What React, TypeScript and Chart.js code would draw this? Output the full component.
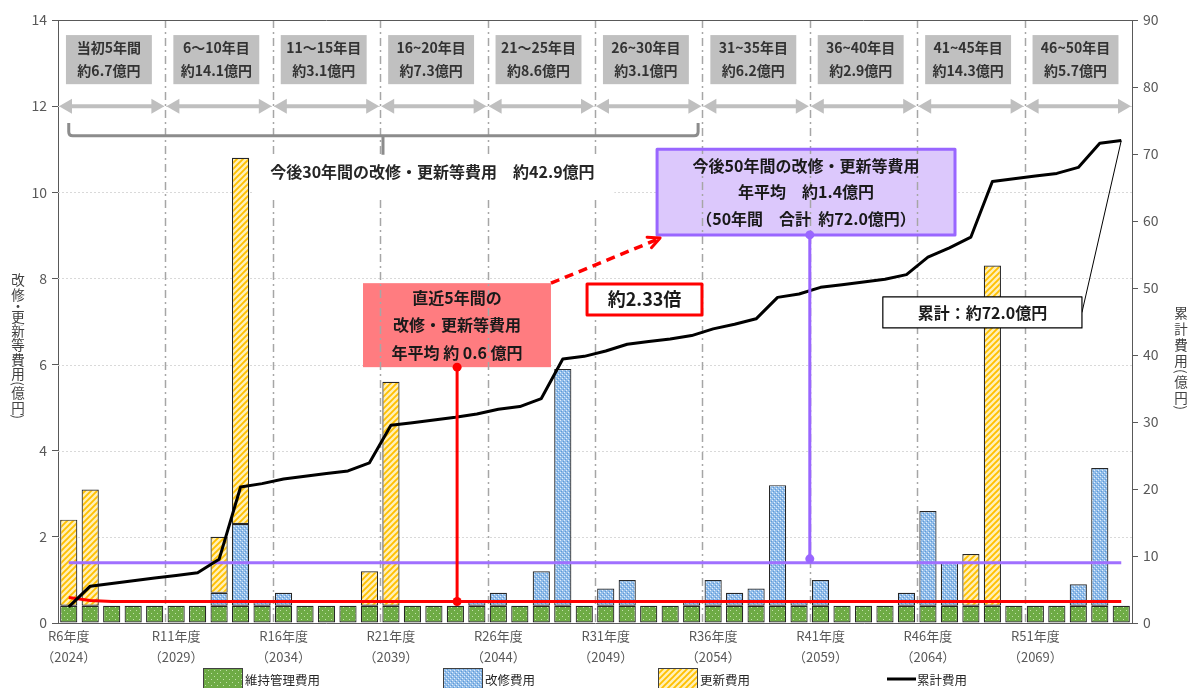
import React, { useEffect, useRef } from "react";
import { Chart, registerables } from "chart.js";

Chart.register(...registerables);

const FONT = '"Noto Sans CJK JP", "Noto Sans", sans-serif';

// ---------- data ----------
const reiwaYears = [
  "R6", "R7", "R8", "R9", "R10", "R11", "R12", "R13", "R14", "R15",
  "R16", "R17", "R18", "R19", "R20", "R21", "R22", "R23", "R24", "R25",
  "R26", "R27", "R28", "R29", "R30", "R31", "R32", "R33", "R34", "R35",
  "R36", "R37", "R38", "R39", "R40", "R41", "R42", "R43", "R44", "R45",
  "R46", "R47", "R48", "R49", "R50", "R51", "R52", "R53", "R54", "R55",
];
const westernYears = [
  "2024", "2025", "2026", "2027", "2028", "2029", "2030", "2031", "2032", "2033",
  "2034", "2035", "2036", "2037", "2038", "2039", "2040", "2041", "2042", "2043",
  "2044", "2045", "2046", "2047", "2048", "2049", "2050", "2051", "2052", "2053",
  "2054", "2055", "2056", "2057", "2058", "2059", "2060", "2061", "2062", "2063",
  "2064", "2065", "2066", "2067", "2068", "2069", "2070", "2071", "2072", "2073",
];

// 維持管理費用 (億円)
const maintenanceCost = [
  0.4, 0.4, 0.4, 0.4, 0.4, 0.4, 0.4, 0.4, 0.4, 0.4,
  0.4, 0.4, 0.4, 0.4, 0.4, 0.4, 0.4, 0.4, 0.4, 0.4,
  0.4, 0.4, 0.4, 0.4, 0.4, 0.4, 0.4, 0.4, 0.4, 0.4,
  0.4, 0.4, 0.4, 0.4, 0.4, 0.4, 0.4, 0.4, 0.4, 0.4,
  0.4, 0.4, 0.4, 0.4, 0.4, 0.4, 0.4, 0.4, 0.4, 0.4,
];
// 改修費用 (億円)
const repairCost = [
  0, 0, 0, 0, 0, 0, 0, 0.3, 1.9, 0.1,
  0.3, 0, 0, 0, 0, 0, 0, 0, 0, 0.1,
  0.3, 0, 0.8, 5.5, 0, 0.4, 0.6, 0, 0, 0.1,
  0.6, 0.3, 0.4, 2.8, 0.1, 0.6, 0, 0, 0, 0.3,
  2.2, 1.0, 0, 0, 0, 0, 0, 0.5, 3.2, 0,
];
// 更新費用 (億円)
const renewalCost = [
  2.0, 2.7, 0, 0, 0, 0, 0, 1.3, 8.5, 0,
  0, 0, 0, 0, 0.8, 5.2, 0, 0, 0, 0,
  0, 0, 0, 0, 0, 0, 0, 0, 0, 0,
  0, 0, 0, 0, 0, 0, 0, 0, 0, 0,
  0, 0, 1.2, 7.9, 0, 0, 0, 0, 0, 0,
];
// 累計費用 (億円)
const cumulativeCost = [
  2.4, 5.5, 5.9, 6.3, 6.7, 7.1, 7.5, 9.5, 20.3, 20.8,
  21.5, 21.9, 22.3, 22.7, 23.9, 29.5, 29.9, 30.3, 30.7, 31.2,
  31.9, 32.3, 33.5, 39.4, 39.8, 40.6, 41.6, 42.0, 42.4, 42.9,
  43.9, 44.6, 45.4, 48.6, 49.1, 50.1, 50.5, 50.9, 51.3, 52.0,
  54.6, 56.0, 57.6, 65.9, 66.3, 66.7, 67.1, 68.0, 71.6, 72.0,
];
// 直近5年間の年平均 (red line)
const recentAverage = [
  0.59, 0.52, 0.5, 0.5, 0.5, 0.5, 0.5, 0.5, 0.5, 0.5,
  0.5, 0.5, 0.5, 0.5, 0.5, 0.5, 0.5, 0.5, 0.5, 0.5,
  0.5, 0.5, 0.5, 0.5, 0.5, 0.5, 0.5, 0.5, 0.5, 0.5,
  0.5, 0.5, 0.5, 0.5, 0.5, 0.5, 0.5, 0.5, 0.5, 0.5,
  0.5, 0.5, 0.5, 0.5, 0.5, 0.5, 0.5, 0.5, 0.5, 0.5,
];
// 今後50年間の年平均 (purple line)
const futureAverage = [
  1.4, 1.4, 1.4, 1.4, 1.4, 1.4, 1.4, 1.4, 1.4, 1.4,
  1.4, 1.4, 1.4, 1.4, 1.4, 1.4, 1.4, 1.4, 1.4, 1.4,
  1.4, 1.4, 1.4, 1.4, 1.4, 1.4, 1.4, 1.4, 1.4, 1.4,
  1.4, 1.4, 1.4, 1.4, 1.4, 1.4, 1.4, 1.4, 1.4, 1.4,
  1.4, 1.4, 1.4, 1.4, 1.4, 1.4, 1.4, 1.4, 1.4, 1.4,
];

const periodNames = [
  "当初5年間", "6～10年目", "11～15年目", "16~20年目", "21～25年目",
  "26~30年目", "31~35年目", "36~40年目", "41~45年目", "46~50年目",
];
const periodCosts = [
  "約6.7億円", "約14.1億円", "約3.1億円", "約7.3億円", "約8.6億円",
  "約3.1億円", "約6.2億円", "約2.9億円", "約14.3億円", "約5.7億円",
];

const leftAxis = { min: 0, max: 14, step: 2 };
const rightAxis = { min: 0, max: 90, step: 10 };

const thirtyYearText = "今後30年間の改修・更新等費用　約42.9億円";
const recentBoxLines = ["直近5年間の", "改修・更新等費用", "年平均 約 0.6 億円"];
const futureBoxLines = ["今後50年間の改修・更新等費用", "年平均　約1.4億円", "（50年間　合計  約72.0億円）"];
const ratioText = "約2.33倍";
const totalText = "累計：約72.0億円";
const legendLabels = ["維持管理費用", "改修費用", "更新費用", "累計費用"];
const leftTitle = "改修・更新等費用(億円)";
const rightTitle = "累計費用(億円)";

// ---------- patterns ----------
function makePattern(kind: string): CanvasPattern {
  const c = document.createElement("canvas");
  if (kind === "green") {
    c.width = 6; c.height = 6;
    const g = c.getContext("2d")!;
    g.fillStyle = "#6eab45"; g.fillRect(0, 0, 6, 6);
    g.fillStyle = "#c2e2ab"; g.fillRect(1, 1, 1, 1); g.fillRect(4, 4, 1, 1);
    return g.createPattern(c, "repeat")!;
  }
  if (kind === "blue") {
    c.width = 4; c.height = 4;
    const g = c.getContext("2d")!;
    g.fillStyle = "#92bde9"; g.fillRect(0, 0, 4, 4);
    g.fillStyle = "#e2eefb"; g.fillRect(0, 0, 1, 1); g.fillRect(2, 2, 1, 1);
    g.fillStyle = "#5e9ad8"; g.fillRect(1, 3, 1, 1); g.fillRect(3, 1, 1, 1);
    return g.createPattern(c, "repeat")!;
  }
  c.width = 6; c.height = 6;
  const g = c.getContext("2d")!;
  g.fillStyle = "#fff0b8"; g.fillRect(0, 0, 6, 6);
  g.strokeStyle = "#ffc000"; g.lineWidth = 1.9;
  g.beginPath();
  g.moveTo(-1, 7); g.lineTo(7, -1);
  g.moveTo(-4, 4); g.lineTo(4, -4);
  g.moveTo(2, 10); g.lineTo(10, 2);
  g.stroke();
  return g.createPattern(c, "repeat")!;
}

// ---------- drawing helpers ----------
function txt(ctx: any, s: string, x: number, y: number, font: string, color: string, align = "center") {
  ctx.font = font;
  ctx.fillStyle = color;
  ctx.textAlign = align;
  ctx.textBaseline = "middle";
  ctx.fillText(s, x, y);
}

function dot(ctx: any, x: number, y: number, r: number, color: string) {
  ctx.beginPath();
  ctx.arc(x, y, r, 0, Math.PI * 2);
  ctx.fillStyle = color;
  ctx.fill();
}

function verticalText(ctx: any, s: string, cx: number, y0: number, size: number, adv: number) {
  ctx.font = `${size}px ${FONT}`;
  ctx.fillStyle = "#404040";
  ctx.textAlign = "center";
  ctx.textBaseline = "middle";
  let y = y0;
  for (const ch of s) {
    if (ch === "(" || ch === ")") {
      const w = ctx.measureText(ch).width;
      ctx.save();
      ctx.translate(cx, y + w / 2);
      ctx.rotate(Math.PI / 2);
      ctx.fillText(ch, 0, 0);
      ctx.restore();
      y += w;
    } else if (ch === "・") {
      const a = size * 0.55;
      ctx.fillText(ch, cx, y + a / 2);
      y += a;
    } else {
      ctx.fillText(ch, cx, y + adv / 2);
      y += adv;
    }
  }
}

function makeDecor(pats: { green: CanvasPattern; blue: CanvasPattern; yellow: CanvasPattern }) {
  return {
    id: "decor",
    beforeDatasetsDraw(chart: any) {
      const { ctx, chartArea: a } = chart;
      const xs = chart.scales.x, ys = chart.scales.y;
      const X = (v: number) => xs.getPixelForValue(v);
      const Y = (v: number) => ys.getPixelForValue(v);
      ctx.save();
      // dotted horizontal grid
      ctx.strokeStyle = "#d9d9d9";
      ctx.lineWidth = 1;
      ctx.setLineDash([2, 2]);
      ys.ticks.forEach((t: any) => {
        if (t.value > leftAxis.min && t.value < leftAxis.max) {
          const py = Math.round(Y(t.value)) + 0.5;
          ctx.beginPath(); ctx.moveTo(a.left, py); ctx.lineTo(a.right, py); ctx.stroke();
        }
      });
      ctx.setLineDash([]);
      // annotation box fills (dash-dot lines show through)
      ctx.fillStyle = "#ff7c80";
      ctx.fillRect(X(13.7), Y(7.89), X(22.45) - X(13.7), Y(5.94) - Y(7.89));
      ctx.fillStyle = "#dcc8fc";
      ctx.fillRect(X(27.39), Y(11.0), X(41.26) - X(27.39), Y(9.01) - Y(11.0));
      // dash-dot period separators
      ctx.strokeStyle = "#a6a6a6";
      ctx.lineWidth = 1.5;
      ctx.setLineDash([8, 4, 2, 4]);
      for (let k = 1; k < periodNames.length; k++) {
        const px = Math.round(X(5 * k - 0.5)) + 0.5;
        ctx.beginPath(); ctx.moveTo(px, a.top); ctx.lineTo(px, a.bottom); ctx.stroke();
      }
      ctx.restore();
    },
    afterDatasetsDraw(chart: any) {
      const { ctx } = chart;
      const xs = chart.scales.x, ys = chart.scales.y, y2 = chart.scales.y2;
      const X = (v: number) => xs.getPixelForValue(v);
      const Y = (v: number) => ys.getPixelForValue(v);
      ctx.save();
      const bold14 = `bold 14px ${FONT}`;
      const bold16 = `bold 16px ${FONT}`;
      // header boxes
      for (let k = 0; k < periodNames.length; k++) {
        const x0 = X(5 * k - 0.13), x1 = X(5 * k + 3.87);
        const t = Y(13.65), b = Y(12.51);
        ctx.fillStyle = "#c0c0c0";
        ctx.fillRect(x0, t, x1 - x0, b - t);
        const cx = (x0 + x1) / 2, cy = (t + b) / 2;
        txt(ctx, periodNames[k], cx, cy - 11.5, bold14, "#333333");
        txt(ctx, periodCosts[k], cx, cy + 11.5, bold14, "#333333");
      }
      // double-headed arrows
      ctx.fillStyle = "#bfbfbf";
      ctx.strokeStyle = "#bfbfbf";
      for (let k = 0; k < periodNames.length; k++) {
        const x0 = X(5 * k - 0.5) + 1, x1 = X(5 * k + 4.5) - 1;
        const yy = Y(12);
        const hl = 13, hh = 7.5;
        ctx.lineWidth = 4;
        ctx.beginPath(); ctx.moveTo(x0 + hl - 2, yy); ctx.lineTo(x1 - hl + 2, yy); ctx.stroke();
        ctx.beginPath(); ctx.moveTo(x0, yy); ctx.lineTo(x0 + hl, yy - hh); ctx.lineTo(x0 + hl, yy + hh); ctx.closePath(); ctx.fill();
        ctx.beginPath(); ctx.moveTo(x1, yy); ctx.lineTo(x1 - hl, yy - hh); ctx.lineTo(x1 - hl, yy + hh); ctx.closePath(); ctx.fill();
      }
      // bracket for 30 years
      {
        const xl = X(0), xr = X(29.3), xm = X(14.63);
        const yb = Y(11.31), yt = Y(11.61), ym = Y(10.87);
        ctx.strokeStyle = "#8c8c8c";
        ctx.lineWidth = 3;
        ctx.lineJoin = "round";
        ctx.beginPath();
        ctx.moveTo(xl, yt);
        ctx.lineTo(xl, yb - 4);
        ctx.quadraticCurveTo(xl, yb, xl + 4, yb);
        ctx.lineTo(xr - 4, yb);
        ctx.quadraticCurveTo(xr, yb, xr, yb - 4);
        ctx.lineTo(xr, yt);
        ctx.moveTo(xm, yb);
        ctx.lineTo(xm, ym);
        ctx.stroke();
      }
      // 30-year text with white background
      ctx.fillStyle = "#ffffff";
      ctx.fillRect(X(8.58), Y(10.82), X(25.4) - X(8.58), Y(9.89) - Y(10.82));
      txt(ctx, thirtyYearText, X(16.93), Y(10.47), bold16, "#262626");
      // red box texts
      {
        const cx = (X(13.7) + X(22.45)) / 2, cy = (Y(7.89) + Y(5.94)) / 2;
        recentBoxLines.forEach((s, i) => txt(ctx, s, cx, cy + (i - 1) * 27.5, bold16, "#1a1a1a"));
      }
      // purple box border + texts
      {
        const x0 = X(27.39), x1 = X(41.26), t = Y(11.0), b = Y(9.01);
        ctx.strokeStyle = "#9966ff";
        ctx.lineWidth = 3;
        ctx.strokeRect(x0, t, x1 - x0, b - t);
        const cx = (x0 + x1) / 2, cy = (t + b) / 2;
        futureBoxLines.forEach((s, i) => txt(ctx, s, cx, cy + (i - 1) * 26.5, bold16, "#1a1a1a"));
      }
      // ratio box
      {
        const x0 = X(24.13), x1 = X(29.48), t = Y(7.87), b = Y(7.15);
        ctx.fillStyle = "#ffffff";
        ctx.fillRect(x0, t, x1 - x0, b - t);
        ctx.strokeStyle = "#ff0000";
        ctx.lineWidth = 3;
        ctx.strokeRect(x0, t, x1 - x0, b - t);
        txt(ctx, ratioText, (x0 + x1) / 2, (t + b) / 2, `bold 18px ${FONT}`, "#1a1a1a");
      }
      // total box + leader
      {
        const x0 = X(37.9), x1 = X(47.17), t = Y(7.57), b = Y(6.85);
        ctx.strokeStyle = "#000000";
        ctx.lineWidth = 1;
        ctx.beginPath();
        ctx.moveTo(x1, (t + b) / 2);
        ctx.lineTo(X(49), y2.getPixelForValue(cumulativeCost[cumulativeCost.length - 1]));
        ctx.stroke();
        ctx.fillStyle = "#ffffff";
        ctx.fillRect(x0, t, x1 - x0, b - t);
        ctx.lineWidth = 1.2;
        ctx.strokeRect(x0, t, x1 - x0, b - t);
        txt(ctx, totalText, (x0 + x1) / 2, (t + b) / 2, bold16, "#1a1a1a");
      }
      // red vertical connector
      {
        const px = X(18.08), yb = Y(recentAverage[18]), yt = Y(5.94);
        ctx.strokeStyle = "#ff0000";
        ctx.lineWidth = 3;
        ctx.beginPath(); ctx.moveTo(px, yb); ctx.lineTo(px, yt); ctx.stroke();
        dot(ctx, px, yb, 4.5, "#ff0000");
        dot(ctx, px, yt, 4.5, "#ff0000");
      }
      // purple vertical connector
      {
        const px = X(34.5), yb = Y(1.49), yt = Y(9.01);
        ctx.strokeStyle = "#9966ff";
        ctx.lineWidth = 3;
        ctx.beginPath(); ctx.moveTo(px, yb); ctx.lineTo(px, yt); ctx.stroke();
        dot(ctx, px, yb, 4.5, "#9966ff");
        dot(ctx, px, yt, 4.5, "#9966ff");
      }
      // red dashed arrow
      {
        const sx = X(22.45), sy = Y(7.89), ex = X(27.53), ey = Y(8.94);
        ctx.strokeStyle = "#ff0000";
        ctx.lineWidth = 3.5;
        ctx.setLineDash([9, 6]);
        ctx.beginPath(); ctx.moveTo(sx, sy); ctx.lineTo(ex - 4, ey + 2); ctx.stroke();
        ctx.setLineDash([]);
        const ang = Math.atan2(ey - sy, ex - sx);
        const L = 13;
        ctx.lineWidth = 3;
        ctx.lineCap = "round";
        ctx.beginPath();
        ctx.moveTo(ex - L * Math.cos(ang - 0.45), ey - L * Math.sin(ang - 0.45));
        ctx.lineTo(ex, ey);
        ctx.lineTo(ex - L * Math.cos(ang + 0.45), ey - L * Math.sin(ang + 0.45));
        ctx.stroke();
      }
      ctx.restore();
    },
    afterDraw(chart: any) {
      const { ctx, chartArea: a } = chart;
      ctx.save();
      // top frame line
      ctx.strokeStyle = "#595959";
      ctx.lineWidth = 1;
      ctx.beginPath(); ctx.moveTo(a.left, a.top + 0.5); ctx.lineTo(a.right, a.top + 0.5); ctx.stroke();
      // legend
      const ly = 668, lh = 24;
      const items = [
        { x: 203, fill: pats.green },
        { x: 443, fill: pats.blue },
        { x: 658, fill: pats.yellow },
      ];
      items.forEach((it, i) => {
        ctx.fillStyle = it.fill;
        ctx.fillRect(it.x, ly, 40, lh);
        ctx.strokeStyle = "#404040";
        ctx.lineWidth = 1;
        ctx.strokeRect(it.x + 0.5, ly + 0.5, 39, lh);
        txt(ctx, legendLabels[i], it.x + 42, 680, `12.5px ${FONT}`, "#262626", "left");
      });
      ctx.strokeStyle = "#000000";
      ctx.lineWidth = 3;
      ctx.beginPath(); ctx.moveTo(887, 679); ctx.lineTo(916, 679); ctx.stroke();
      txt(ctx, legendLabels[3], 917, 680, `12.5px ${FONT}`, "#262626", "left");
      // vertical axis titles
      verticalText(ctx, leftTitle, 18, 273, 13.5, 14.4);
      verticalText(ctx, rightTitle, 1181, 305, 13.5, 16);
      ctx.restore();
    },
  };
}

export default function App() {
  const ref = useRef<HTMLCanvasElement>(null);
  useEffect(() => {
    const canvas = ref.current!;
    const pats = { green: makePattern("green"), blue: makePattern("blue"), yellow: makePattern("yellow") };
    const barCommon = {
      type: "bar",
      stack: "bars",
      order: 10,
      yAxisID: "y",
      borderColor: "#262626",
      borderWidth: 1.2,
      borderSkipped: false,
      barPercentage: 0.8,
      categoryPercentage: 1.0,
    };
    const chart = new Chart(canvas, {
      type: "bar",
      data: {
        labels: reiwaYears,
        datasets: [
          { ...barCommon, label: legendLabels[0], data: maintenanceCost, backgroundColor: pats.green },
          { ...barCommon, label: legendLabels[1], data: repairCost, backgroundColor: pats.blue },
          { ...barCommon, label: legendLabels[2], data: renewalCost, backgroundColor: pats.yellow },
          {
            type: "line", label: "直近5年平均", data: recentAverage, yAxisID: "y", order: 1,
            borderColor: "#ff0000", borderWidth: 3, pointRadius: 0, tension: 0, fill: false,
          },
          {
            type: "line", label: "今後50年平均", data: futureAverage, yAxisID: "y", order: 1,
            borderColor: "#a070ff", borderWidth: 3, pointRadius: 0, tension: 0, fill: false,
          },
          {
            type: "line", label: legendLabels[3], data: cumulativeCost, yAxisID: "y2", order: 0,
            borderColor: "#000000", borderWidth: 3, pointRadius: 0, tension: 0, fill: false,
            borderJoinStyle: "round",
          },
        ] as any,
      },
      options: {
        animation: false,
        responsive: true,
        maintainAspectRatio: false,
        layout: { padding: { top: 20, left: 0, right: 0, bottom: 0 } },
        plugins: { legend: { display: false }, tooltip: { enabled: false } },
        scales: {
          x: {
            offset: true,
            grid: { display: false, drawTicks: false },
            border: { display: true, color: "#595959", width: 1 },
            ticks: {
              autoSkip: false,
              maxRotation: 0,
              minRotation: 0,
              padding: 3,
              color: "#595959",
              font: { family: FONT, size: 13, lineHeight: "21px" },
              callback: (_v: any, i: number) =>
                i % 5 === 0 ? [reiwaYears[i] + "年度", "（" + westernYears[i] + "）"] : "",
            },
            afterFit: (s: any) => { s.height = 65; },
          },
          y: {
            position: "left",
            min: leftAxis.min,
            max: leftAxis.max,
            ticks: { stepSize: leftAxis.step, padding: 5, color: "#595959", font: { family: FONT, size: 14 } },
            grid: { drawOnChartArea: false, drawTicks: true, tickLength: 6, tickColor: "#595959" },
            border: { display: true, color: "#595959", width: 1 },
            afterFit: (s: any) => { s.width = 58; },
          },
          y2: {
            position: "right",
            min: rightAxis.min,
            max: rightAxis.max,
            ticks: { stepSize: rightAxis.step, padding: 5, color: "#595959", font: { family: FONT, size: 14 } },
            grid: { drawOnChartArea: false, drawTicks: true, tickLength: 6, tickColor: "#595959" },
            border: { display: true, color: "#595959", width: 1 },
            afterFit: (s: any) => { s.width = 57; },
          },
        },
      } as any,
      plugins: [makeDecor(pats)],
    } as any);
    return () => chart.destroy();
  }, []);
  return (
    <div style={{ position: "fixed", left: 0, top: 0, width: 1189, height: 688, background: "#ffffff" }}>
      <canvas ref={ref} />
    </div>
  );
}
